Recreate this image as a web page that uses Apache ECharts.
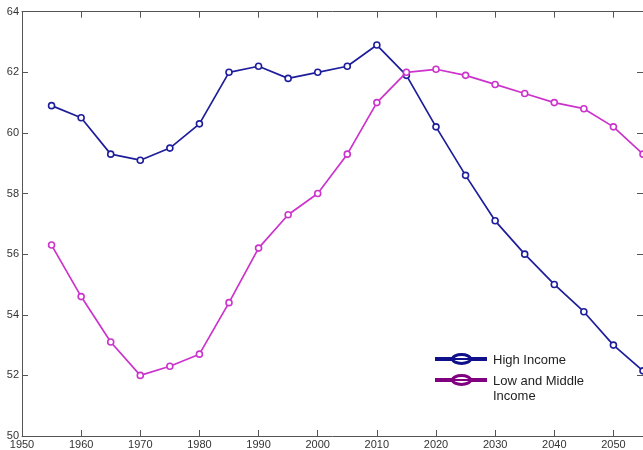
<!DOCTYPE html>
<html>
<head>
<meta charset="utf-8">
<script src="https://cdn.jsdelivr.net/npm/echarts@6/dist/echarts.min.js"></script>
<style>
html,body{margin:0;padding:0;background:#fff;overflow:hidden;}
#chart{width:643px;height:450px;}
</style>
</head>
<body>
<div id="chart"></div>
<script>
const years = [1955,1960,1965,1970,1975,1980,1985,1990,1995,2000,2005,2010,2015,2020,2025,2030,2035,2040,2045,2050,2055];
const highIncome = [60.9,60.5,59.3,59.1,59.5,60.3,62.0,62.2,61.8,62.0,62.2,62.9,61.9,60.2,58.6,57.1,56.0,55.0,54.1,53.0,52.15];
const lowMiddleIncome = [56.3,54.6,53.1,52.0,52.3,52.7,54.4,56.2,57.3,58.0,59.3,61.0,62.0,62.1,61.9,61.6,61.3,61.0,60.8,60.2,59.3];
const xTicks = [1950,1960,1970,1980,1990,2000,2010,2020,2030,2040,2050];
const yTicks = [50,52,54,56,58,60,62,64];
const seriesNames = ['High Income','Low and Middle Income'];

const chart = echarts.init(document.getElementById('chart'), null, {renderer:'canvas'});
const axisColor = '#555';
const labelStyle = {color:'#333', fontFamily:'Liberation Sans, Arial', fontSize:11};
const xCommon = {
  type:'value', min:1950, max:2055, interval:10,
  axisLine:{show:true, onZero:false, lineStyle:{color:axisColor, width:1}},
  axisTick:{show:true, inside:true, length:6, lineStyle:{color:axisColor}},
  splitLine:{show:false}
};
const yCommon = {
  type:'value', min:50, max:64, interval:2,
  axisLine:{show:true, onZero:false, lineStyle:{color:axisColor, width:1}},
  axisTick:{show:true, inside:true, length:6, lineStyle:{color:axisColor}},
  splitLine:{show:false}
};
const option = {
  backgroundColor:'#fff',
  animation:false,
  grid:{left:22, right:-1.6, top:11.7, bottom:14, containLabel:false},
  xAxis:[
    Object.assign({}, xCommon, {position:'bottom',
      axisLabel:Object.assign({show:true, margin:3,
        formatter:v => xTicks.includes(v) ? String(v) : '', showMaxLabel:false}, labelStyle)}),
    Object.assign({}, xCommon, {position:'top', axisLabel:{show:false}})
  ],
  yAxis:[
    Object.assign({}, yCommon, {position:'left',
      axisLabel:Object.assign({show:true, margin:3,
        formatter:v => yTicks.includes(v) ? String(v) : ''}, labelStyle)}),
    Object.assign({}, yCommon, {position:'right', axisLabel:{show:false}})
  ],
  series:[
    {
      name:seriesNames[0], type:'line', xAxisIndex:0, yAxisIndex:0,
      data:years.map((y,i)=>[y, highIncome[i]]),
      symbol:'circle', symbolSize:6, showAllSymbol:true,
      lineStyle:{color:'#1e1e9c', width:1.7},
      itemStyle:{color:'#fff', borderColor:'#1e1e9c', borderWidth:1.6},
      z:2
    },
    {
      name:seriesNames[1], type:'line', xAxisIndex:0, yAxisIndex:0,
      data:years.map((y,i)=>[y, lowMiddleIncome[i]]),
      symbol:'circle', symbolSize:6, showAllSymbol:true,
      lineStyle:{color:'#cc33cc', width:1.7},
      itemStyle:{color:'#fff', borderColor:'#cc33cc', borderWidth:1.6},
      z:3
    }
  ],
  graphic:[
    {type:'line', shape:{x1:435,y1:359,x2:487,y2:359}, style:{stroke:'#10108a', lineWidth:4}},
    {type:'ellipse', shape:{cx:461.5,cy:359,rx:9,ry:4.5}, style:{stroke:'#10108a', lineWidth:3, fill:'#fff'}},
    {type:'line', shape:{x1:453,y1:359,x2:470,y2:359}, style:{stroke:'#10108a', lineWidth:2}},
    {type:'line', shape:{x1:435,y1:380,x2:487,y2:380}, style:{stroke:'#800080', lineWidth:4}},
    {type:'ellipse', shape:{cx:461.5,cy:380,rx:9,ry:4.5}, style:{stroke:'#800080', lineWidth:3, fill:'#fff'}},
    {type:'line', shape:{x1:453,y1:380,x2:470,y2:380}, style:{stroke:'#800080', lineWidth:2}},
    {type:'text', left:493, top:353.5, style:{text:'High Income', font:'13px Liberation Sans, Arial', fill:'#222'}},
    {type:'text', left:493, top:374, style:{text:'Low and Middle\nIncome', font:'13px Liberation Sans, Arial', fill:'#222', lineHeight:15}}
  ]
};
chart.setOption(option);
</script>
</body>
</html>
